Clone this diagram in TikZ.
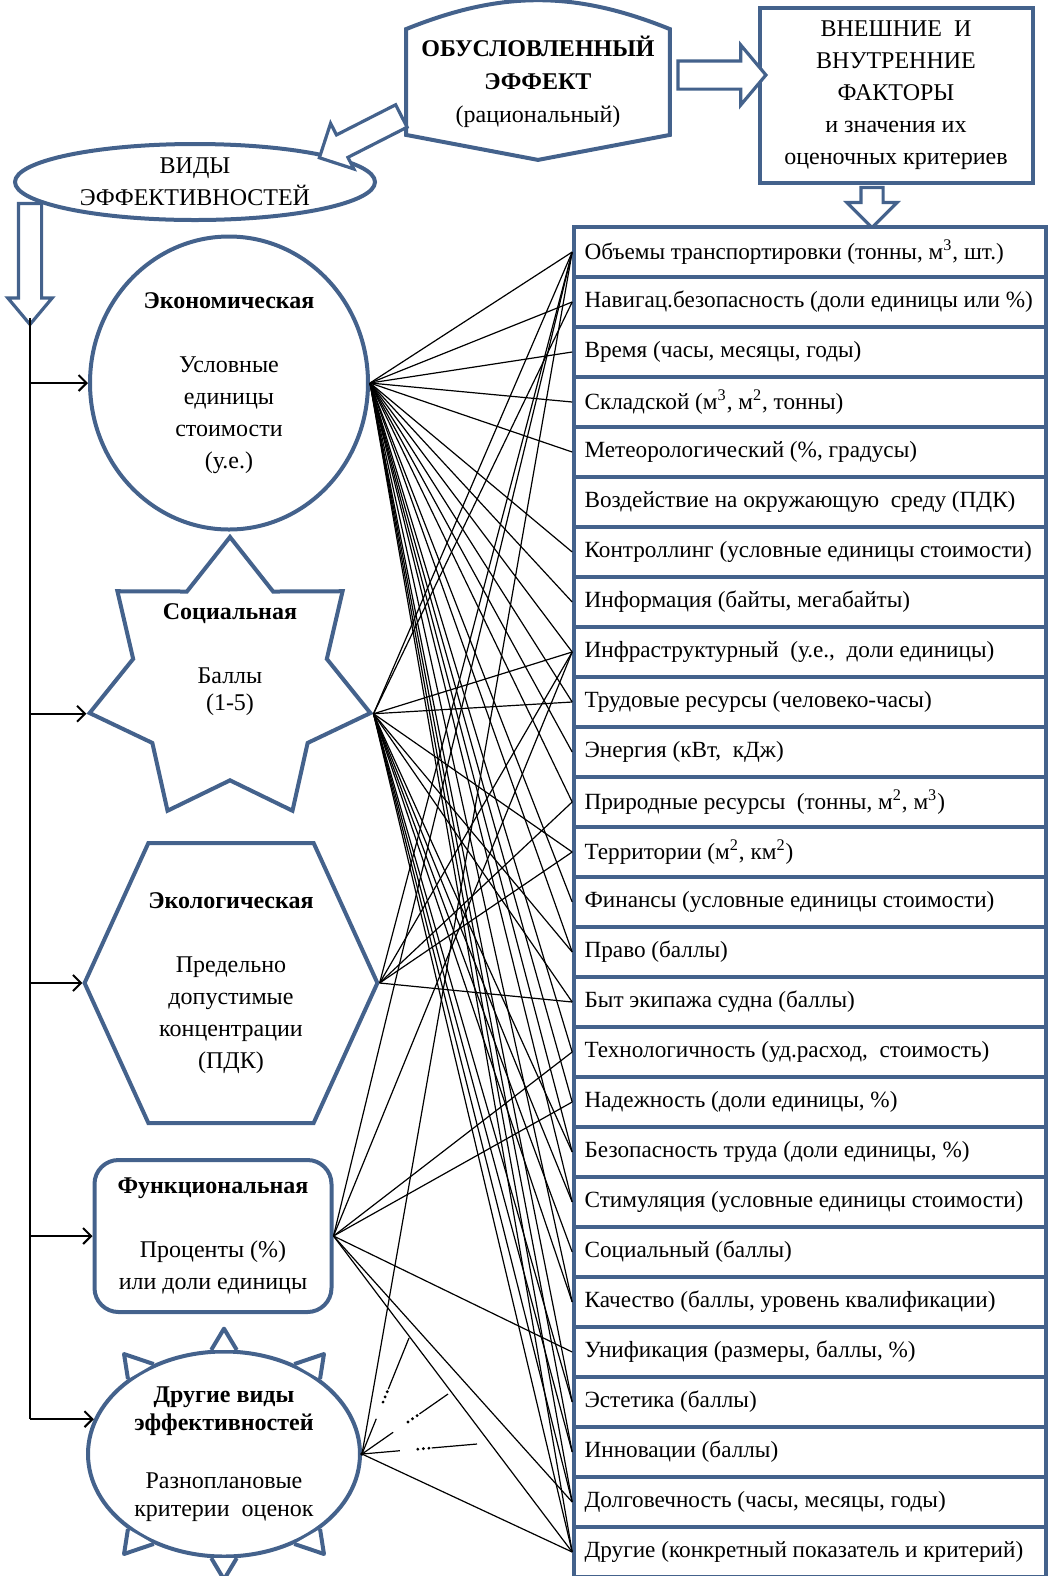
\documentclass[tikz,border=0pt]{standalone}
\usepackage{fontspec}
\setmainfont{Liberation Serif}
\usetikzlibrary{shapes.geometric,shapes.symbols,shapes.arrows,arrows.meta,calc}
\definecolor{frame}{RGB}{68,98,140}
\tikzset{
  every node/.style={font=\fontsize{12}{16}\selectfont, align=center, inner sep=0pt},
  border/.style={draw=frame, line width=2pt},
  kind/.style={border, fill=white},
  factor/.style={draw=frame, line width=1.8pt, fill=white, minimum width=236pt, minimum height=25pt},
  unit/.style={anchor=west, font=\fontsize{11.6}{14}\selectfont},
  hollow/.style={single arrow, draw=frame, line width=1.6pt, fill=white, inner xsep=0pt},
  link/.style={black, line width=0.6pt},
  feed/.style={black, line width=1pt, -{Straight Barb[length=4pt,width=8pt]}},
  etc/.style={link, dash pattern=on 19pt off 16pt on 30pt},
  etcdots/.style={black, line width=1.6pt, line cap=round, dash pattern=on 0pt off 28pt on 0pt off 2.8pt on 0pt off 2.8pt on 0pt off 80pt}
}
\begin{document}
\begin{tikzpicture}[x=0.5pt, y=-0.5pt]
\useasboundingbox (0,0) rectangle (1048,1576);

% Effect and factors at the top
\node[minimum width=131.5pt, minimum height=52.5pt, font=\fontsize{12}{16.5}\selectfont] (eff) at (538,82)
  {\textbf{ОБУСЛОВЛЕННЫЙ}\\\textbf{ЭФФЕКТ}\\(рациональный)};
\draw[border] (eff.north west) to[bend left=22] (eff.north east) -- (eff.south east)
  -- ([yshift=-12.5pt]eff.south) -- (eff.south west) -- cycle;
\node[kind, minimum width=136.5pt, minimum height=87.5pt] (ext) at (896,95)
  {ВНЕШНИЕ\ \ И\\ВНУТРЕННИЕ\\ФАКТОРЫ\\и значения их\\оценочных критериев};
\node[kind, ellipse, minimum width=180pt, minimum height=38pt] (types) at (195,182)
  {ВИДЫ\\ЭФФЕКТИВНОСТЕЙ};

% Hollow arrows
\node[hollow, minimum height=44pt, inner ysep=6.25pt, single arrow head extend=8pt, single arrow tip angle=100] (arrext) at (716,75) {};
\node[hollow, rotate=207, minimum height=46pt, inner ysep=5.5pt, single arrow head extend=6.5pt] (arrtypes) at (366,134) {};
\node[hollow, rotate=-90, minimum height=20pt, inner ysep=4.75pt, single arrow head extend=7pt] (arrlist) at (872,202) {};
\node[hollow, rotate=-90, minimum height=60.5pt, inner ysep=5pt, single arrow head extend=5.25pt, single arrow tip angle=80] (arrdown) at (30,257) {};

% Kinds of efficiency
\node[kind, ellipse, minimum width=139pt, minimum height=146.5pt] (econ) at (229,383)
  {\textbf{Экономическая}\\[16pt]Условные\\единицы\\стоимости\\(у.е.)};
\node[kind, star, star points=7, star point ratio=1.45, minimum size=144pt] (soc) at (230,681) {};
\node (soctext) at (230,660) {\textbf{Социальная}\\[16pt]Баллы\\[-2.5pt](1-5)};
\node[kind, signal, signal to=east and west, signal pointer angle=131, minimum width=141pt, minimum height=140pt] (eco) at (231,983)
  {\textbf{Экологическая}\\[16pt]Предельно\\допустимые\\концентрации\\(ПДК)};
\node[kind, rounded corners=12pt, minimum width=118.5pt, minimum height=76pt] (fun) at (213,1236)
  {\textbf{Функциональная}\\[16pt]Проценты (\%)\\или доли единицы};
\node[kind, ellipse, minimum width=136pt, minimum height=102.5pt, font=\fontsize{12}{14}\selectfont] (oth) at (224,1454)
  {\textbf{Другие виды}\\\textbf{эффективностей}\\[15pt]Разноплановые\\критерии\ \ оценок};
\foreach \a [evaluate=\a as \lo using int(\a-7), evaluate=\a as \hi using int(\a+7)] in {90,45,135,225,315,270}
  \draw[border, fill=white, line join=round] (oth.\lo) -- ($(oth.center)!1.2!(oth.\a)$) -- (oth.\hi);

% Spine with feeds
\coordinate (spine) at (30,318);
\draw[black, line width=1pt] (spine) -- (spine |- oth.165);
\draw[feed] (spine |- econ.west) -- (econ.west);
\draw[feed] (spine |- soc.outer point 3) -- (soc.outer point 3);
\draw[feed] (spine |- eco.west) -- (eco.west);
\draw[feed] (spine |- fun.west) -- (fun.west);
\draw[feed] (spine |- oth.165) -- (oth.165);

% Factors and their units
\foreach \i/\t in {
  1/{Объемы транспортировки (тонны, м\textsuperscript{3}, шт.)},
  2/{Навигац.безопасность (доли единицы или \%)},
  3/{Время (часы, месяцы, годы)},
  4/{Складской (м\textsuperscript{3}, м\textsuperscript{2}, тонны)},
  5/{Метеорологический (\%, градусы)},
  6/{Воздействие на окружающую\ \ среду (ПДК)},
  7/{Контроллинг (условные единицы стоимости)},
  8/{Информация (байты, мегабайты)},
  9/{Инфраструктурный\ \ (у.е.,\ \ доли единицы)},
  10/{Трудовые ресурсы (человеко-часы)},
  11/{Энергия (кВт,\ \ кДж)},
  12/{Природные ресурсы\ \ (тонны, м\textsuperscript{2}, м\textsuperscript{3})},
  13/{Территории (м\textsuperscript{2}, км\textsuperscript{2})},
  14/{Финансы (условные единицы стоимости)},
  15/{Право (баллы)},
  16/{Быт экипажа судна (баллы)},
  17/{Технологичность (уд.расход,\ \ стоимость)},
  18/{Надежность (доли единицы, \%)},
  19/{Безопасность труда (доли единицы, \%)},
  20/{Стимуляция (условные единицы стоимости)},
  21/{Социальный (баллы)},
  22/{Качество (баллы, уровень квалификации)},
  23/{Унификация (размеры, баллы, \%)},
  24/{Эстетика (баллы)},
  25/{Инновации (баллы)},
  26/{Долговечность (часы, месяцы, годы)},
  27/{Другие (конкретный показатель и критерий)}}
{
  \node[factor] (f\i) at (810, {252+50*(\i-1)}) {};
  \node[unit] (t\i) at ([xshift=6pt]f\i.west) {\t};
}

% Links between kinds and factors
\foreach \r in {1,2,3,4,5,7,8,9,10,11,12,14,15,17,18,19,20,22,24,25,26,27}
  \draw[link] (econ.east) -- (f\r.west);
\foreach \r in {1,2,9,10,13,15,16,19,20,21,22,24,25,26,27}
  \draw[link] (soc.outer point 6) -- (f\r.west);
\foreach \r in {1,9,12,13,16}
  \draw[link] (eco.east) -- (f\r.west);
\foreach \r in {1,9,17,18,23,26,27}
  \draw[link] (fun.east) -- (f\r.west);
\foreach \r in {1,27}
  \draw[link] (oth.east) -- (f\r.west);

% Further links, left open
\coordinate (more1) at (409,1338);
\coordinate (more2) at (448,1394);
\coordinate (more3) at (477,1444);
\foreach \m in {more1,more2,more3}{
  \draw[etc] (oth.east) -- (\m);
  \draw[etcdots] (oth.east) -- (\m);
}
\end{tikzpicture}
\end{document}
